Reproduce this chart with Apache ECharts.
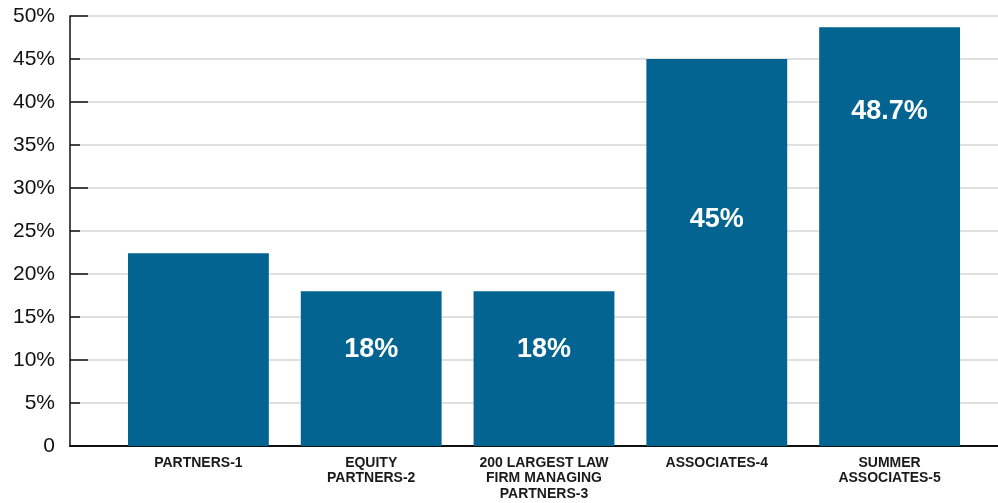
<!DOCTYPE html>
<html>
<head>
<meta charset="utf-8">
<script src="https://cdn.jsdelivr.net/npm/echarts@6/dist/echarts.min.js"></script>
<style>
html,body{margin:0;padding:0;background:#fff;}
#main{width:998px;height:503px;}
</style>
</head>
<body>
<div id="main"></div>
<script>
var categories = ['PARTNERS-1', 'EQUITY\nPARTNERS-2', '200 LARGEST LAW\nFIRM MANAGING\nPARTNERS-3', 'ASSOCIATES-4', 'SUMMER\nASSOCIATES-5'];
var values = [22.4, 18, 18, 45, 48.7];
var valueLabels = ['', '18%', '18%', '45%', '48.7%'];
var yTicks = [0, 5, 10, 15, 20, 25, 30, 35, 40, 45, 50];

// where the white label sits inside each bar (px down from the top)
var labelDist = [0, 45, 45, 147, 71];

var barData = values.map(function (v, i) {
    return {
        value: v,
        label: { show: valueLabels[i] !== '', distance: labelDist[i] }
    };
});

var chart = echarts.init(document.getElementById('main'));
var option = {
    animation: false,
    grid: [
        { left: 70, right: 0, top: 16, bottom: 57 },
        { left: 112, right: 22, top: 16, bottom: 57 }
    ],
    xAxis: [
        {
            gridIndex: 0, type: 'category', data: [],
            axisLine: { show: true, lineStyle: { color: '#111', width: 2 } },
            axisTick: { show: false }, axisLabel: { show: false }
        },
        {
            gridIndex: 1, type: 'category', data: categories,
            axisLine: { show: false }, axisTick: { show: false },
            axisLabel: {
                interval: 0, margin: 9,
                color: '#1a1a1a', fontFamily: 'Liberation Sans', fontWeight: 'bold',
                fontSize: 14, lineHeight: 15.5
            }
        }
    ],
    yAxis: [
        {
            gridIndex: 0, type: 'value', min: 0, max: 50, interval: 5,
            axisLine: { show: true, lineStyle: { color: '#111', width: 1.5 } },
            axisTick: { show: true, inside: true, length: 10, lineStyle: { color: '#111', width: 1.5 } },
            splitLine: { show: true, lineStyle: { color: '#d6d6d6', width: 1.5 } },
            axisLabel: {
                margin: 15, color: '#111', fontFamily: 'Liberation Sans', fontSize: 21,
                formatter: function (v) { return yTicks.indexOf(v) === 0 ? '0' : v + '%'; }
            }
        },
        {
            gridIndex: 0, type: 'value', min: 0, max: 50, interval: 10, position: 'left',
            axisLine: { show: false },
            axisTick: { show: true, inside: true, length: 18, lineStyle: { color: '#111', width: 1.5 } },
            splitLine: { show: false }, axisLabel: { show: false }
        },
        {
            gridIndex: 1, type: 'value', min: 0, max: 50, show: false
        }
    ],
    series: [
        {
            type: 'bar',
            xAxisIndex: 1, yAxisIndex: 2,
            barCategoryGap: '18.5%',
            itemStyle: { color: '#036391' },
            label: {
                show: true, position: 'insideTop',
                color: '#fff', fontFamily: 'Liberation Sans', fontWeight: 'bold', fontSize: 27,
                formatter: function (p) { return valueLabels[p.dataIndex]; }
            },
            data: barData
        }
    ]
};
chart.setOption(option);
</script>
</body>
</html>
